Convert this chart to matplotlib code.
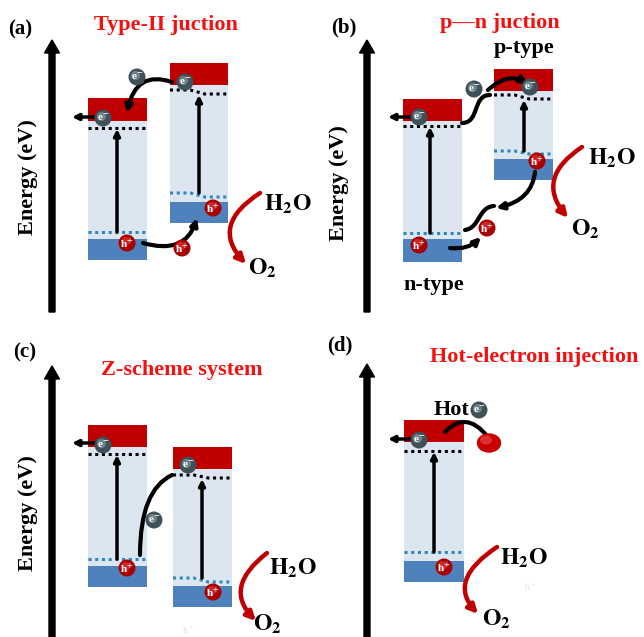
import matplotlib
matplotlib.use('Agg')
import matplotlib.pyplot as plt
from matplotlib.patches import Rectangle, Circle, Ellipse, FancyArrowPatch
from matplotlib.path import Path

plt.rcParams['font.family'] = ['Liberation Serif', 'DejaVu Serif']
plt.rcParams['mathtext.fontset'] = 'stix'

CB_RED = '#C00000'
GAP_BLUE = '#DCE6F1'
VB_BLUE = '#4F81BD'
TITLE_RED = '#F51010'
DOT_BLUE = '#2E86C1'

# panel texts
panel_labels = ['(a)', '(b)', '(c)', '(d)']
panel_label_xy = [(20, 29), (344, 27), (25, 352), (340, 345)]
titles = ['Type-II juction', 'p\u2014n juction', 'Z-scheme system', 'Hot-electron injection']
title_xy = [(166, 25), (500, 23), (182, 370), (534, 357)]

# energy axes
axis_x = [52, 367, 52, 367]
axis_top = [40, 40, 366, 364]
axis_bottom = [312, 312, 637, 637]
energy_label_xy = [(28, 177), (339, 183), (28, 513)]

# band boxes: x0, x1, cb top, cb bottom, vb top, vb bottom
box_x0 = [88, 170, 403, 494, 88, 173, 404]
box_x1 = [147, 228, 462, 553, 147, 232, 464]
cb_top = [98, 63, 99, 69, 425, 447, 420]
cb_bot = [121, 85, 121, 91, 447, 469, 442]
vb_top = [239, 202, 239, 159, 566, 586, 561]
vb_bot = [260, 223, 262, 180, 587, 607, 582]
# dotted levels (left y, right y)
cb_dot_l = [128, 90, 126, 95, 454, 475, 451]
cb_dot_r = [128, 94, 126, 99, 454, 478, 451]
vb_dot_l = [232, 193, 233, 151, 559, 578, 552]
vb_dot_r = [232, 197, 233, 154, 559, 582, 552]
excite_x = [117, 199, 430, 524, 117, 202, 434]

# charge carriers
electrons = [(103, 118), (185, 82), (137, 77), (419, 117), (530, 87), (474, 89),
             (103, 445), (188, 465), (154, 520), (419, 440), (479, 410)]
holes = [(127, 243), (213, 208), (182, 248), (419, 245), (487, 228), (537, 161),
         (127, 568), (213, 592), (444, 567)]

# electrons leaving to the left
out_start = [(95, 117), (411, 117), (95, 443), (411, 439)]
out_end = [(72, 117), (388, 117), (72, 443), (388, 439)]

# black transfer curves (bezier points), arrow flag
transfer_curves = [
    ([(172, 82), (136, 70), (127, 113)], True),
    ([(143, 243), (185, 255), (197, 218)], True),
    ([(462, 123), (480, 123), (472, 95), (490, 95)], False),
    ([(488, 90), (508, 72), (528, 84)], True),
    ([(450, 248), (468, 250), (481, 237)], True),
    ([(465, 230), (480, 228), (478, 207), (494, 206)], False),
    ([(535, 172), (532, 200), (496, 208)], True),
    ([(140, 555), (140, 490), (172, 475)], False),
    ([(445, 432), (466, 410), (487, 436)], False),
]

# red water oxidation arrows (start, control, end)
red_arrows = [
    [(260, 193), (210, 225), (246, 264)],
    [(582, 147), (535, 178), (568, 218)],
    [(267, 553), (223, 587), (256, 621)],
    [(497, 547), (447, 580), (478, 614)],
]
h2o_xy = [(288, 204), (612, 158), (293, 568), (524, 558)]
o2_xy = [(262, 268), (585, 229), (267, 624), (496, 619)]

fig = plt.figure(figsize=(6.44, 6.37), dpi=100)
ax = fig.add_axes([0, 0, 1, 1])
ax.set_xlim(0, 644)
ax.set_ylim(637, 0)
ax.set_aspect('equal')
ax.axis('off')

bold = dict(fontweight='bold')

for lab, (x, y) in zip(panel_labels, panel_label_xy):
    ax.text(x, y, lab, fontsize=15, ha='center', va='center', **bold)
for t, (x, y) in zip(titles, title_xy):
    ax.text(x, y, t, fontsize=16, color=TITLE_RED, ha='center', va='center', **bold)

for x, t, b in zip(axis_x, axis_top, axis_bottom):
    ax.arrow(x, b, 0, t - b, width=6, head_width=15, head_length=13,
             length_includes_head=True, color='k', zorder=3)
for x, y in energy_label_xy:
    ax.text(x, y, 'Energy (eV)', fontsize=16, rotation=90, ha='center', va='center', **bold)

for i in range(len(box_x0)):
    x0, x1 = box_x0[i], box_x1[i]
    w = x1 - x0
    ax.add_patch(Rectangle((x0, cb_top[i]), w, cb_bot[i] - cb_top[i], color=CB_RED, lw=0))
    ax.add_patch(Rectangle((x0, cb_bot[i]), w, vb_top[i] - cb_bot[i], color=GAP_BLUE, lw=0))
    ax.add_patch(Rectangle((x0, vb_top[i]), w, vb_bot[i] - vb_top[i], color=VB_BLUE, lw=0))
    xs = [x0, x0 + 0.35 * w, x0 + 0.6 * w, x1]
    ax.plot(xs, [cb_dot_l[i], cb_dot_l[i], cb_dot_r[i], cb_dot_r[i]], color='k',
            lw=2.2, ls=(0, (1, 1.2)), zorder=3)
    ax.plot(xs, [vb_dot_l[i], vb_dot_l[i], vb_dot_r[i], vb_dot_r[i]], color=DOT_BLUE,
            lw=2.2, ls=(0, (1, 1.2)), zorder=3)
    ax.annotate('', xy=(excite_x[i], cb_dot_r[i] + 1), xytext=(excite_x[i], vb_dot_l[i]),
                arrowprops=dict(arrowstyle='-|>', color='k', lw=2.5, mutation_scale=9,
                                shrinkA=0, shrinkB=0), zorder=4)

for s, e in zip(out_start, out_end):
    ax.annotate('', xy=e, xytext=s,
                arrowprops=dict(arrowstyle='-|>', color='k', lw=2.5, mutation_scale=9,
                                shrinkA=0, shrinkB=0), zorder=4)

for pts, has_head in transfer_curves:
    codes = [Path.MOVETO] + [Path.CURVE3] * 2 if len(pts) == 3 else [Path.MOVETO] + [Path.CURVE4] * 3
    style = '-|>' if has_head else '-'
    ax.add_patch(FancyArrowPatch(path=Path(pts, codes), arrowstyle=style, color='k',
                                 lw=3, mutation_scale=10, zorder=5, capstyle='round'))

for pts in red_arrows:
    ax.add_patch(FancyArrowPatch(path=Path(pts, [Path.MOVETO, Path.CURVE3, Path.CURVE3]),
                                 arrowstyle='-|>', color='#C00000', lw=3.2,
                                 mutation_scale=13, zorder=5))
for x, y in h2o_xy:
    ax.text(x, y, r'$\mathbf{H_2O}$', fontsize=17, ha='center', va='center')
for x, y in o2_xy:
    ax.text(x, y, r'$\mathbf{O_2}$', fontsize=17, ha='center', va='center')


def ball(x, y, base, light, label):
    ax.add_patch(Circle((x, y), 7.8, color=base, zorder=6))
    ax.add_patch(Circle((x - 1.5, y - 1.5), 4.5, color=light, alpha=0.6, zorder=6, lw=0))
    ax.text(x, y + 0.5, label, fontsize=8, color='white', ha='center', va='center',
            zorder=7, **bold)


for x, y in electrons:
    ball(x, y, '#3E5058', '#8FA3AA', r'e$^{\mathbf{-}}$')
for x, y in holes:
    ball(x, y, '#A80000', '#E84040', r'h$^{\mathbf{+}}$')

ax.add_patch(Ellipse((489, 443), 23, 18, color='#C80000', zorder=6))
ax.add_patch(Ellipse((486, 440), 12, 9, color='#F05050', alpha=0.6, zorder=6, lw=0))

ax.text(524, 48, 'p-type', fontsize=16, ha='center', va='center', **bold)
ax.text(434, 285, 'n-type', fontsize=16, ha='center', va='center', **bold)
ax.text(452, 410, 'Hot', fontsize=16, ha='center', va='center', **bold)

# faint leftover labels
ax.text(188, 630, r'h$^+$', fontsize=7, color='#E2E2E2', ha='center', va='center')
ax.text(530, 587, r'h$^+$', fontsize=7, color='#E2E2E2', ha='center', va='center')

fig.savefig('out.png', dpi=100)
